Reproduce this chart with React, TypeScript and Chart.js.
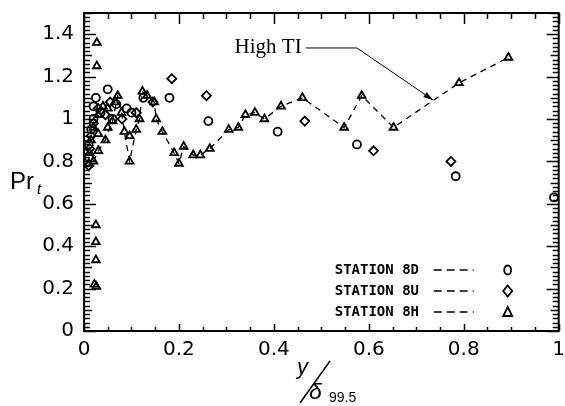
import React, { useEffect, useRef } from 'react';
import { Chart, registerables } from 'chart.js';
Chart.register(...registerables);

// ---- data ----
const xTickValues = [0, 0.2, 0.4, 0.6, 0.8, 1];
const yTickValues = [0, 0.2, 0.4, 0.6, 0.8, 1, 1.2, 1.4];

const station8D_x = [0.01, 0.01, 0.015, 0.02, 0.02, 0.025, 0.035, 0.05, 0.06, 0.068, 0.09, 0.1, 0.125, 0.18, 0.262, 0.408, 0.575, 0.783, 0.99];
const station8D_y = [0.82, 0.88, 0.95, 1.0, 1.06, 1.1, 1.03, 1.14, 1.0, 1.07, 1.05, 1.03, 1.1, 1.1, 0.99, 0.94, 0.88, 0.73, 0.63];

const station8U_x = [0.01, 0.012, 0.015, 0.02, 0.03, 0.045, 0.055, 0.08, 0.11, 0.145, 0.185, 0.258, 0.465, 0.61, 0.773];
const station8U_y = [0.78, 0.86, 0.92, 0.98, 1.05, 1.02, 1.08, 1.0, 1.03, 1.08, 1.19, 1.11, 0.99, 0.85, 0.8];

const station8H_x = [0.02, 0.03, 0.045, 0.06, 0.071, 0.079, 0.085, 0.096, 0.11, 0.117, 0.123, 0.133, 0.148, 0.152, 0.165, 0.19, 0.2, 0.21, 0.23, 0.245, 0.265, 0.305, 0.325, 0.34, 0.36, 0.38, 0.415, 0.46, 0.548, 0.585, 0.652, 0.79, 0.894];
const station8H_y = [0.8, 0.85, 0.9, 0.99, 1.11, 1.03, 0.94, 0.8, 0.95, 1.0, 1.13, 1.11, 1.08, 1.0, 0.94, 0.84, 0.79, 0.87, 0.83, 0.83, 0.86, 0.95, 0.96, 1.02, 1.03, 1.0, 1.06, 1.1, 0.96, 1.11, 0.96, 1.17, 1.29];

const station8Hextra_x = [0.027, 0.027, 0.025, 0.025, 0.025, 0.022, 0.026, 0.01, 0.012, 0.015, 0.02, 0.03, 0.04, 0.05, 0.065, 0.03, 0.05, 0.096];
const station8Hextra_y = [1.36, 1.25, 0.5, 0.42, 0.335, 0.22, 0.21, 0.79, 0.84, 0.9, 0.96, 1.02, 1.06, 1.05, 1.08, 0.93, 0.96, 0.92];

const legendLabels = ['STATION 8D', 'STATION 8U', 'STATION 8H'];
const legendStyles = ['circle', 'rectRot', 'triangle'];

const annotationText = 'High TI';
const annotationPathX = [0.467, 0.575, 0.735];
const annotationPathY = [1.335, 1.335, 1.09];

const zip = (xs: number[], ys: number[]) => xs.map((x, i) => ({ x, y: ys[i] }));
const fmt = (v: any) => String(Math.round(Number(v) * 10) / 10);

function drawSymbol(ctx: CanvasRenderingContext2D, style: string, cx: number, cy: number) {
  ctx.beginPath();
  if (style === 'circle') {
    ctx.ellipse(cx, cy, 3.5, 4.5, 0, 0, Math.PI * 2);
  } else if (style === 'rectRot') {
    ctx.moveTo(cx, cy - 5.5);
    ctx.lineTo(cx + 4.5, cy);
    ctx.lineTo(cx, cy + 5.5);
    ctx.lineTo(cx - 4.5, cy);
    ctx.closePath();
  } else {
    ctx.moveTo(cx, cy - 5);
    ctx.lineTo(cx + 4.5, cy + 4);
    ctx.lineTo(cx - 4.5, cy + 4);
    ctx.closePath();
  }
  ctx.stroke();
}

const decorPlugin = {
  id: 'decor',
  afterDraw(chart: any) {
    const { ctx, chartArea: a, scales } = chart;
    const xs = scales.x;
    const ys = scales.y;
    ctx.save();
    ctx.strokeStyle = '#000';
    ctx.fillStyle = '#000';
    ctx.setLineDash([]);

    // ticks on x (bottom & top)
    ctx.lineWidth = 1.5;
    for (let i = 0; i <= 20; i++) {
      const px = Math.round(xs.getPixelForValue(i * 0.05)) + 0.5;
      const major = i % 4 === 0;
      ctx.beginPath();
      ctx.moveTo(px, a.bottom);
      ctx.lineTo(px, a.bottom - (major ? 7 : 4));
      ctx.moveTo(px, a.top);
      ctx.lineTo(px, a.top + (major ? 11 : 6));
      ctx.stroke();
    }
    // ticks on y (left & right)
    ctx.lineWidth = 1.4;
    for (let i = 0; i <= 75; i++) {
      const py = Math.round(ys.getPixelForValue(i * 0.02)) + 0.5;
      const len = i % 10 === 0 ? 12 : i % 5 === 0 ? 8 : 6;
      ctx.beginPath();
      ctx.moveTo(a.left, py);
      ctx.lineTo(a.left + len, py);
      ctx.moveTo(a.right, py);
      ctx.lineTo(a.right - len, py);
      ctx.stroke();
    }
    // frame
    ctx.lineWidth = 2;
    ctx.strokeRect(a.left, a.top, a.right - a.left, a.bottom - a.top);

    // annotation
    const p = annotationPathX.map((v, i) => ({ x: xs.getPixelForValue(v), y: ys.getPixelForValue(annotationPathY[i]) }));
    ctx.lineWidth = 1;
    ctx.beginPath();
    ctx.moveTo(p[0].x, p[0].y);
    for (let i = 1; i < p.length; i++) ctx.lineTo(p[i].x, p[i].y);
    ctx.stroke();
    const tip = p[p.length - 1];
    const prev = p[p.length - 2];
    const ang = Math.atan2(tip.y - prev.y, tip.x - prev.x);
    ctx.beginPath();
    ctx.moveTo(tip.x, tip.y);
    ctx.lineTo(tip.x - 10 * Math.cos(ang - 0.3), tip.y - 10 * Math.sin(ang - 0.3));
    ctx.lineTo(tip.x - 10 * Math.cos(ang + 0.3), tip.y - 10 * Math.sin(ang + 0.3));
    ctx.closePath();
    ctx.fill();
    ctx.font = '21px "Liberation Serif"';
    ctx.textAlign = 'right';
    ctx.textBaseline = 'middle';
    ctx.fillText(annotationText, p[0].x - 4, p[0].y);

    // legend
    ctx.font = 'bold 14px "DejaVu Sans Mono"';
    ctx.textAlign = 'left';
    ctx.textBaseline = 'middle';
    legendLabels.forEach((lab, i) => {
      const cy = a.bottom - 61 + i * 21;
      ctx.fillText(lab, a.right - 224, cy);
      ctx.lineWidth = 1.5;
      ctx.setLineDash([8, 5]);
      ctx.beginPath();
      ctx.moveTo(a.right - 125, cy);
      ctx.lineTo(a.right - 85, cy);
      ctx.stroke();
      ctx.setLineDash([]);
      ctx.lineWidth = 1.8;
      drawSymbol(ctx, legendStyles[i], a.right - 51, cy);
    });

    // y axis title: Pr_t
    ctx.textAlign = 'left';
    ctx.textBaseline = 'alphabetic';
    ctx.font = '24px "Liberation Sans"';
    ctx.fillText('Pr', 10, 189);
    ctx.font = 'italic 15px "Liberation Sans"';
    ctx.fillText('t', 37, 194);

    // x axis title: y / δ99.5
    ctx.font = 'italic 22px "Liberation Sans"';
    ctx.fillText('y', 297, 374);
    ctx.lineWidth = 1.5;
    ctx.beginPath();
    ctx.moveTo(300, 403);
    ctx.lineTo(330, 361);
    ctx.stroke();
    ctx.font = 'italic 23px "Liberation Sans"';
    ctx.fillText('δ', 309, 399);
    ctx.font = '14px "Liberation Sans"';
    ctx.fillText('99.5', 329, 402);

    ctx.restore();
  },
};

export default function App() {
  const ref = useRef<HTMLCanvasElement | null>(null);
  useEffect(() => {
    document.body.style.margin = '0';
    if (!ref.current) return;
    const pointCommon = {
      borderColor: '#000',
      backgroundColor: 'rgba(0,0,0,0)',
      pointBorderWidth: 1.8,
    };
    const chart = new Chart(ref.current, {
      type: 'scatter',
      data: {
        datasets: [
          { ...pointCommon, label: legendLabels[0], data: zip(station8D_x, station8D_y), pointStyle: 'circle', pointRadius: 4, showLine: false },
          { ...pointCommon, label: legendLabels[1], data: zip(station8U_x, station8U_y), pointStyle: 'rectRot', pointRadius: 4.5, showLine: false },
          { ...pointCommon, label: legendLabels[2], data: zip(station8H_x, station8H_y), pointStyle: 'triangle', pointRadius: 4.5, showLine: true, borderWidth: 1.3, borderDash: [6, 5] },
          { ...pointCommon, label: 'extra', data: zip(station8Hextra_x, station8Hextra_y), pointStyle: 'triangle', pointRadius: 4.5, showLine: false },
        ],
      },
      options: {
        responsive: false,
        animation: false,
        devicePixelRatio: 1,
        layout: { padding: { top: 13, right: 3, left: 0, bottom: 0 } },
        plugins: { legend: { display: false }, tooltip: { enabled: false } },
        scales: {
          x: {
            type: 'linear',
            min: 0,
            max: 1,
            afterBuildTicks: (s: any) => { s.ticks = xTickValues.map((v) => ({ value: v })); },
            afterFit: (s: any) => { s.height = 75; s.paddingLeft = 0; s.paddingRight = 0; },
            grid: { display: false, drawTicks: false },
            border: { display: false },
            ticks: { color: '#000', padding: 7, font: { family: 'DejaVu Sans', size: 20 }, maxRotation: 0, callback: fmt },
          },
          y: {
            type: 'linear',
            min: 0,
            max: 1.5,
            afterBuildTicks: (s: any) => { s.ticks = yTickValues.map((v) => ({ value: v })); },
            afterFit: (s: any) => { s.width = 84; s.paddingTop = 0; s.paddingBottom = 0; },
            grid: { display: false, drawTicks: false },
            border: { display: false },
            ticks: { color: '#000', padding: 10, font: { family: 'DejaVu Sans', size: 20 }, callback: fmt },
          },
        },
      },
      plugins: [decorPlugin],
    } as any);
    return () => chart.destroy();
  }, []);
  return <canvas ref={ref} width={565} height={406} style={{ display: 'block', width: 565, height: 406 }} />;
}
